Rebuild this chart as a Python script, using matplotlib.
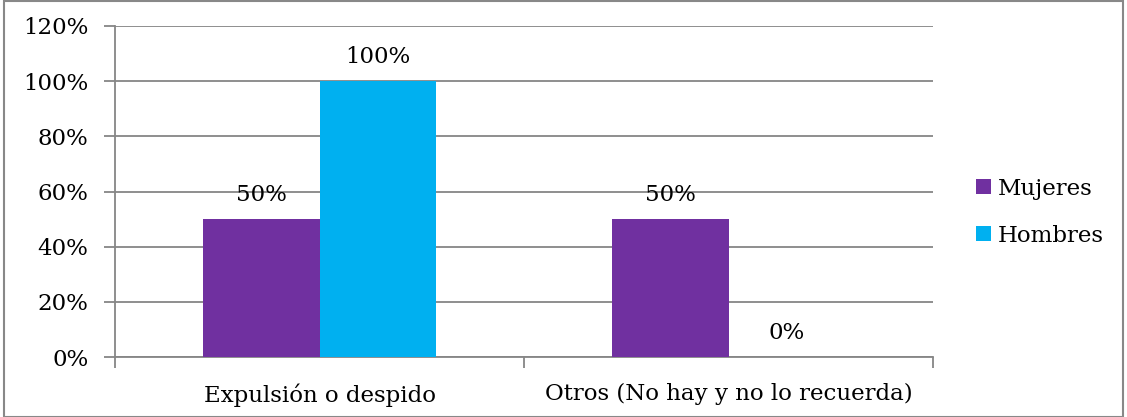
import matplotlib
matplotlib.use("Agg")
import matplotlib.pyplot as plt
import numpy as np
from matplotlib.patches import Rectangle

categories = ["Expulsión o despido", "Otros (No hay y no lo recuerda)"]
series_names = ["Mujeres", "Hombres"]
mujeres = [50, 50]
hombres = [100, 0]
yticks = [0, 20, 40, 60, 80, 100, 120]
colors = ["#7030A0", "#00B0F0"]

plt.rcParams['font.family'] = ['DejaVu Serif']
W, H = 1127, 417
fig = plt.figure(figsize=(W/100, H/100), dpi=100)
ax = fig.add_axes([115/W, 1-357/H, (933-115)/W, (357-26)/H])

x = np.arange(len(categories))
bw = 0.286
gridc = "#868686"
fs = 16.5

for i, (vals, name, c) in enumerate(zip([mujeres, hombres], series_names, colors)):
    pos = x + (i - 0.5) * bw
    ax.bar(pos, vals, width=bw, color=c, label=name, zorder=3)
    for p, v in zip(pos, vals):
        ax.text(p, v + 4.8, f"{v}%", ha="center", va="bottom", fontsize=fs, color="#000000", zorder=4)

ax.set_xlim(-0.5, len(categories) - 0.5)
ax.set_ylim(0, 120)
ax.set_yticks(yticks)
ax.set_yticklabels([f"{t}%" for t in yticks], fontsize=fs)
ax.yaxis.grid(True, color=gridc, linewidth=1.3, zorder=0)
ax.set_xticks(x)
ax.set_xticklabels(categories, fontsize=fs)
ax.tick_params(axis='x', length=0, pad=19)
ax.tick_params(axis='y', length=8, color=gridc, width=1.3, pad=11)
ax.set_xticks([-0.5, 0.5, 1.5], minor=True)
ax.tick_params(axis='x', which='minor', length=8, color=gridc, width=1.3)
for s in ['top', 'right']:
    ax.spines[s].set_visible(False)
for s in ['left', 'bottom']:
    ax.spines[s].set_color(gridc)
    ax.spines[s].set_linewidth(1.3)

leg = fig.legend(loc="upper left", bbox_to_anchor=(955/W, 1-157/H), frameon=False,
                 fontsize=fs, handlelength=0.65, handleheight=0.65, handletextpad=0.3,
                 labelspacing=1.1)

fig.patches.append(Rectangle((4/W, 0), (1123-4)/W, 1 - 0.5/H, transform=fig.transFigure,
                             fill=False, edgecolor="#888888", linewidth=1.5))
fig.savefig("out.png", dpi=100)
